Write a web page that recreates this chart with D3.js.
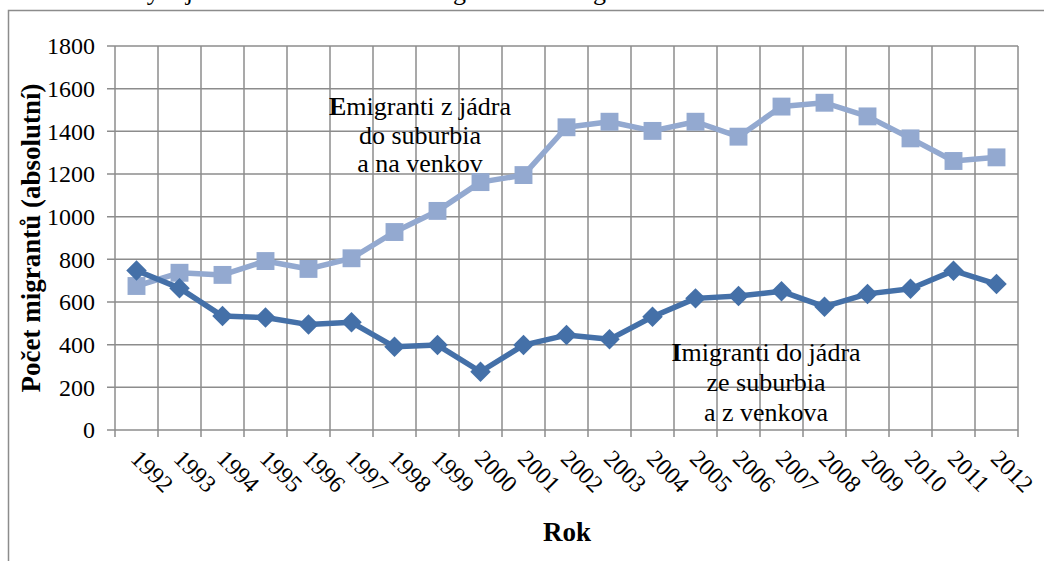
<!DOCTYPE html>
<html>
<head>
<meta charset="utf-8">
<script src="https://cdn.jsdelivr.net/npm/d3@7"></script>
<style>
  body { margin: 0; background: #fff; }
  svg { font-family: "Liberation Serif", "Times New Roman", serif; }
</style>
</head>
<body>
<div id="container"></div>
<script>
/* DATA */
const years = ["1992","1993","1994","1995","1996","1997","1998","1999","2000","2001","2002",
  "2003","2004","2005","2006","2007","2008","2009","2010","2011","2012"];
const imigranti = [748, 665, 534, 527, 494, 505, 390, 398, 273, 398, 445,
  425, 531, 617, 628, 650, 578, 638, 662, 747, 684];
const emigranti = [675, 737, 727, 792, 755, 805, 928, 1027, 1162, 1195, 1419,
  1445, 1402, 1445, 1375, 1516, 1534, 1470, 1367, 1261, 1278];
const yTicks = [0, 200, 400, 600, 800, 1000, 1200, 1400, 1600, 1800];

/* CONSTANTS */
const width = 1044, height = 561;
const plotLeft = 115, plotRight = 1018, plotTop = 46, plotBottom = 430;
const gridColor = "#8c8c8c";
const darkBlue = "#4470a8", lightBlue = "#93a9d0";

const svg = d3.select("#container").append("svg")
  .attr("width", width).attr("height", height);

// caption above the frame, cut off by the page edge
svg.append("text")
  .attr("x", 128).attr("y", 0)
  .style("font-size", "26px")
  .text("Vývoj suburbánní a urbánní migrace mezi regionem a městem");

// frame
svg.append("rect")
  .attr("x", 8.5).attr("y", 10.5)
  .attr("width", 1100).attr("height", 600)
  .attr("fill", "none").attr("stroke", gridColor).attr("stroke-width", 1.5);

/* SCALES */
const xScale = d3.scaleBand().domain(years).range([plotLeft, plotRight]);
const yScale = d3.scaleLinear().domain([0, 1800]).range([plotBottom, plotTop]);

// horizontal gridlines (with small ticks left of the axis)
svg.append("g").selectAll("line").data(yTicks).join("line")
  .attr("x1", plotLeft - 8).attr("x2", plotRight)
  .attr("y1", d => yScale(d)).attr("y2", d => yScale(d))
  .attr("stroke", gridColor).attr("stroke-width", 1.5);

// vertical gridlines at category boundaries
const bounds = years.map(d => xScale(d)).concat([plotRight]);
svg.append("g").selectAll("line").data(bounds).join("line")
  .attr("x1", d => d).attr("x2", d => d)
  .attr("y1", plotTop).attr("y2", plotBottom + 7)
  .attr("stroke", gridColor).attr("stroke-width", 1.5);

// y tick labels
svg.append("g").selectAll("text").data(yTicks).join("text")
  .attr("x", plotLeft - 20).attr("y", d => yScale(d))
  .attr("dy", "0.35em")
  .attr("text-anchor", "end")
  .style("font-size", "24px")
  .text(d => d);

// x tick labels, rotated 45 degrees
svg.append("g").selectAll("text").data(years).join("text")
  .attr("transform", d => `translate(${xScale(d) + xScale.bandwidth() / 2 - 7},${plotBottom + 30}) rotate(45)`)
  .attr("text-anchor", "start")
  .style("font-size", "24px")
  .text(d => d);

// axis titles
svg.append("text")
  .attr("transform", `translate(40,${(plotTop + plotBottom) / 2}) rotate(-90)`)
  .attr("text-anchor", "middle")
  .style("font-size", "27px").style("font-weight", "bold")
  .text("Počet migrantů (absolutní)");

svg.append("text")
  .attr("x", 567).attr("y", 541)
  .attr("text-anchor", "middle")
  .style("font-size", "27px").style("font-weight", "bold")
  .text("Rok");

/* LINES */
const cx = d => xScale(d) + xScale.bandwidth() / 2;

function drawSeries(values, color, angle, size) {
  const pts = years.map((y, i) => [cx(y), yScale(values[i])]);
  svg.append("path")
    .attr("d", d3.line()(pts))
    .attr("fill", "none")
    .attr("stroke", color)
    .attr("stroke-width", 5.5)
    .attr("stroke-linejoin", "round");
  svg.append("g").selectAll("path").data(pts).join("path")
    .attr("transform", d => `translate(${d[0]},${d[1]}) rotate(${angle})`)
    .attr("d", d3.symbol().type(d3.symbolSquare).size(size))
    .attr("fill", color);
}

drawSeries(emigranti, lightBlue, 0, 320);
drawSeries(imigranti, darkBlue, 45, 210);

/* ANNOTATIONS */
function label(lines, x, y0, step) {
  const t = svg.append("text").attr("text-anchor", "middle").style("font-size", "26px");
  lines.forEach((l, i) => {
    const tsp = t.append("tspan").attr("x", x).attr("y", y0 + i * step);
    if (i === 0) {
      tsp.append("tspan").style("font-weight", "bold").text(l[0]);
      tsp.append("tspan").text(l.slice(1));
    } else {
      tsp.text(l);
    }
  });
}
label(["Emigranti z jádra", "do suburbia", "a na venkov"], 420, 115, 28.5);
label(["Imigranti do jádra", "ze suburbia", "a z venkova"], 766, 361, 30);
</script>
</body>
</html>
